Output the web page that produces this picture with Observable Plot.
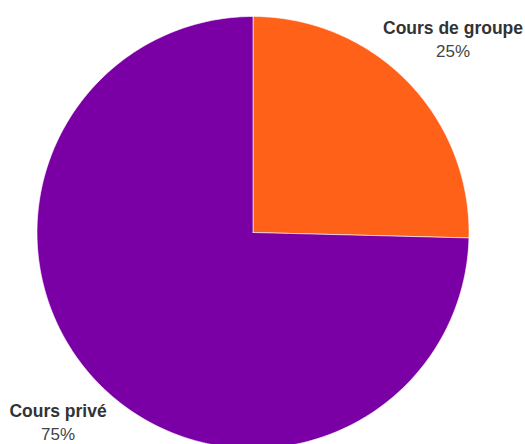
<!DOCTYPE html>
<html>
<head>
<meta charset="utf-8">
<script src="https://cdn.jsdelivr.net/npm/d3@7"></script>
<script src="https://cdn.jsdelivr.net/npm/@observablehq/plot@0.6"></script>
<style>
  html, body { margin: 0; padding: 0; background: #fff; }
  #chart svg { display: block; }
</style>
</head>
<body>
<div id="chart"></div>
<script>
// Data
const categories = ["Cours de groupe", "Cours privé"];
const shares = [25.4, 74.6];
const percentLabels = ["25%", "75%"];
const colors = ["#FF6119", "#7A00A5"];

// Layout (pixels)
const W = 525, H = 444;
const cx = 252.5, cy = 232, R = 216;
const labelPos = [[452.5, 33.5], [57.5, 416.5]];
const lineGap = 23;

const pie = d3.pie().sort(null).value(d => d.value);
const arcs = pie(categories.map((c, i) => ({label: c, value: shares[i]})));

const polys = [];
arcs.forEach(a => {
  const n = 240;
  polys.push({label: a.data.label, x: cx, y: cy});
  for (let k = 0; k <= n; k++) {
    const t = a.startAngle + (a.endAngle - a.startAngle) * k / n;
    polys.push({label: a.data.label, x: cx + R * Math.sin(t), y: cy - R * Math.cos(t)});
  }
  polys.push({label: a.data.label, x: cx, y: cy});
});

const labels = categories.map((c, i) => ({label: c, pct: percentLabels[i], x: labelPos[i][0], y: labelPos[i][1], y2: labelPos[i][1] + lineGap}));

const chart = Plot.plot({
  width: W,
  height: H,
  margin: 0,
  x: {domain: [0, W], range: [0, W], axis: null},
  y: {domain: [0, H], range: [0, H], axis: null},
  color: {domain: categories, range: colors},
  style: {fontFamily: "'Liberation Sans', Arial, sans-serif"},
  marks: [
    Plot.line(polys, {x: "x", y: "y", z: "label", fill: "label", stroke: "white", strokeWidth: 0.6, curve: "linear"}),
    Plot.text(labels, {x: "x", y: "y", text: "label", fontWeight: "bold", fontSize: 17.5, fill: "#333", textAnchor: "middle", lineAnchor: "bottom"}),
    Plot.text(labels, {x: "x", y: "y2", text: "pct", fontSize: 17, fill: "#444", textAnchor: "middle", lineAnchor: "bottom"})
  ]
});
document.getElementById("chart").append(chart);
</script>
</body>
</html>
